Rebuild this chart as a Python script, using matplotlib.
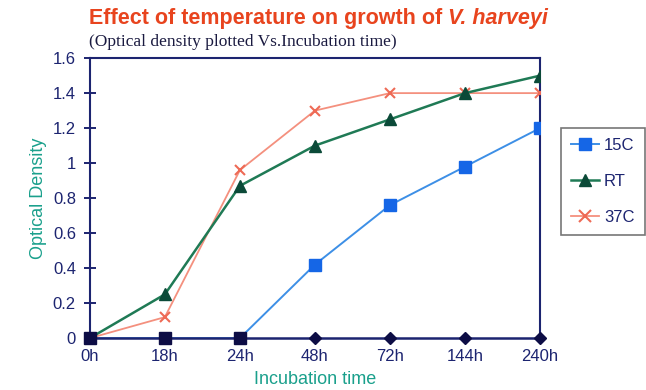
import matplotlib
matplotlib.use("Agg")
import matplotlib.pyplot as plt
from matplotlib.lines import Line2D
import numpy as np

categories = ["0h", "18h", "24h", "48h", "72h", "144h", "240h"]
series_15c = [0, 0, 0, 0.42, 0.76, 0.98, 1.2]
series_rt = [0, 0.25, 0.87, 1.1, 1.25, 1.4, 1.5]
series_37c = [0, 0.12, 0.96, 1.3, 1.4, 1.4, 1.4]
series_ctrl = [0, 0, 0, 0, 0, 0, 0]
y_ticks = [0, 0.2, 0.4, 0.6, 0.8, 1, 1.2, 1.4, 1.6]
y_tick_labels = ["0", "0.2", "0.4", "0.6", "0.8", "1", "1.2", "1.4", "1.6"]

plt.rcParams['font.family'] = ['Liberation Sans', 'DejaVu Sans']

navy = '#1c2470'
dark = '#0d0d45'
blue_line = '#3d8fe6'
blue_mk = '#1566e6'
green_line = '#1f7a55'
green_mk = '#0b4a38'
salmon = '#f4907e'
salmon_mk = '#ee6a55'
teal = '#1aa08c'

fig = plt.figure(figsize=(6.46, 3.9), dpi=100)
ax = fig.add_axes([0.139, 0.133, 0.697, 0.718])

x = np.arange(len(categories))

ax.plot(x, series_37c, color=salmon, lw=1.3, marker='x', ms=7, mew=1.5,
        mec=salmon_mk, zorder=3)
ax.plot(x, series_rt, color=green_line, lw=1.8, marker='^', ms=8,
        mfc=green_mk, mec=green_mk, zorder=4)
ax.plot(x, series_15c, color=blue_line, lw=1.4, marker='s', ms=8,
        mfc=blue_mk, mec=blue_mk, markevery=[3, 4, 5, 6], zorder=5)
ax.plot(x, series_ctrl, color=navy, lw=1.8, marker='D', ms=6,
        mfc=dark, mec=dark, markevery=[3, 4, 5, 6], zorder=6, clip_on=False)
zero_idx = [i for i, v in enumerate(series_15c) if v == 0]
ax.plot(x[zero_idx], [series_15c[i] for i in zero_idx], 's', ms=9,
        color=dark, zorder=7, clip_on=False)

ax.set_xlim(0, len(categories) - 1)
ax.set_ylim(0, 1.6)
ax.set_xticks(x)
ax.set_xticklabels(categories, fontsize=12, color=navy)
ax.set_yticks(y_ticks)
ax.set_yticklabels(y_tick_labels, fontsize=12, color=navy)
ax.tick_params(axis='x', length=0, pad=8)
ax.tick_params(axis='y', direction='inout', length=8, width=1.4, color=navy, pad=6)

for s in ['left', 'top', 'right']:
    ax.spines[s].set_color(navy)
    ax.spines[s].set_linewidth(1.5)
ax.spines['bottom'].set_visible(False)

ax.set_ylabel('Optical Density', fontsize=13, color=teal, labelpad=4)
ax.set_xlabel('Incubation time', fontsize=13, color=teal, labelpad=5)

leg_handles = [
    Line2D([], [], color=blue_line, lw=1.4, marker='s', ms=9, mfc=blue_mk, mec=blue_mk),
    Line2D([], [], color=green_line, lw=1.8, marker='^', ms=8, mfc=green_mk, mec=green_mk),
    Line2D([], [], color=salmon, lw=1.3, marker='x', ms=8, mew=1.5, mec=salmon_mk),
]
leg = fig.legend(leg_handles, ['15C', 'RT', '37C'], loc='upper left',
                 bbox_to_anchor=(0.868, 0.672), frameon=True, fancybox=False,
                 edgecolor='#555555', fontsize=12, handlelength=1.7,
                 labelspacing=1.25, borderpad=0.6, handletextpad=0.3,
                 borderaxespad=0, labelcolor=navy)
leg.get_frame().set_linewidth(1.2)

t1 = fig.text(0.137, 0.938, 'Effect of temperature on growth of ', fontsize=15.5,
              fontweight='bold', color='#e8441e', ha='left', va='baseline')
fig.canvas.draw()
bb = t1.get_window_extent()
fig.text(bb.x1 / fig.bbox.width, 0.938, 'V. harveyi', fontsize=15.5,
         fontweight='bold', fontstyle='italic', color='#e8441e',
         ha='left', va='baseline')
fig.text(0.137, 0.882, '(Optical density plotted Vs.Incubation time)',
         fontsize=12.5, family='Liberation Serif', color='#1a1a40',
         ha='left', va='baseline')

fig.savefig('out.png', dpi=100)
